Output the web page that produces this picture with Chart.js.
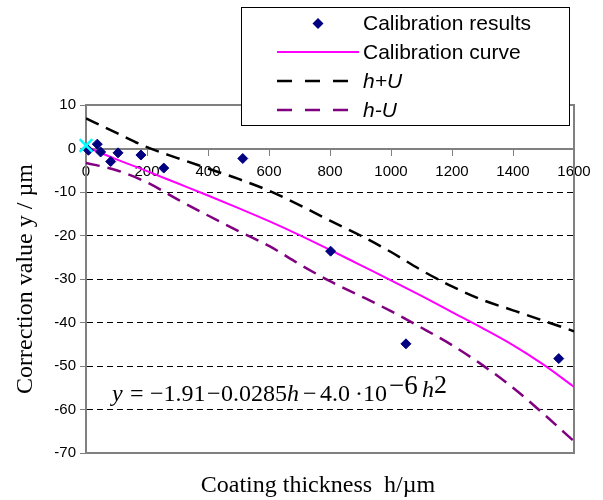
<!DOCTYPE html>
<html>
<head>
<meta charset="utf-8">
<script src="https://cdn.jsdelivr.net/npm/chart.js@4.4.1/dist/chart.umd.min.js"></script>
<style>
html,body{margin:0;padding:0;background:#fff;}
#wrap{width:603px;height:500px;position:relative;}
</style>
</head>
<body>
<div id="wrap"><canvas id="c" width="603" height="500"></canvas></div>
<script>
// ---- data ----
const seriesNames = ['Calibration results', 'Calibration curve', 'h+U', 'h-U'];
const xAxisTitle = 'Coating thickness  h/\u00b5m';
const yAxisTitle = 'Correction value y / \u00b5m';

const referenceH = [0];
const referenceY = [0.7];

const resultH = [8, 37, 48, 81, 105, 180, 255, 514, 802, 1049, 1550];
const resultY = [-0.4, 1.0, -0.8, -3.0, -1.0, -1.5, -4.5, -2.3, -23.6, -44.9, -48.3];

const curveH  = [0, 100, 200, 300, 400, 500, 600, 700, 800, 900, 1000, 1100, 1200, 1300, 1400, 1500, 1600];
const curveY  = [0.4, -2.5, -5.2, -8.0, -10.8, -13.7, -16.7, -19.9, -23.3, -26.8, -30.3, -33.9, -37.6, -41.3, -45.2, -49.7, -54.8];
const upperY  = [6.9, 3.6, 0.3, -2.2, -4.6, -7.0, -9.7, -13.0, -16.6, -20.0, -23.8, -28.0, -31.7, -34.8, -37.2, -39.6, -42.0];
const lowerY  = [-3.3, -5.0, -7.8, -11.7, -15.4, -19.0, -22.4, -26.6, -30.5, -33.9, -37.4, -41.2, -45.2, -49.8, -55.0, -61.0, -67.3];

const xTicks = [0, 200, 400, 600, 800, 1000, 1200, 1400, 1600];
const yTicks = [10, 0, -10, -20, -30, -40, -50, -60, -70];

// equation text pieces: [text, italic, start x, raise, font size]
const equationParts = [
  ['y', true, 112, 0, 24],
  ['=', false, 130, 0, 24],
  ['\u22121.91', false, 150, 0, 24],
  ['\u2212', false, 207, 0, 24],
  ['0.0285', false, 221, 0, 24],
  ['h', true, 287, 0, 24],
  ['\u2212', false, 303, 0, 24],
  ['4.0', false, 320, 0, 24],
  ['\u00b7', false, 355, 0, 24],
  ['10', false, 363, 0, 24],
  ['\u22126', false, 389, 7, 27],
  ['h', true, 422, 4, 24],
  ['2', false, 434, 8, 26]
];

const pts = (xs, ys) => xs.map((x, i) => ({x: x, y: ys[i]}));

const SANS = '"Liberation Sans", Arial, Helvetica, sans-serif';
const SERIF = '"Liberation Serif", "Times New Roman", Times, serif';
const GRAY = '#808080';

const framePlugin = {
  id: 'frame',
  beforeDatasetsDraw(chart) {
    const {ctx, chartArea: a} = chart;
    ctx.save();
    ctx.strokeStyle = GRAY;
    ctx.lineWidth = 2;
    ctx.strokeRect(a.left, a.top, a.right - a.left, a.bottom - a.top);
    ctx.restore();
  }
};

const textPlugin = {
  id: 'texts',
  afterDatasetsDraw(chart) {
    const {ctx} = chart;
    ctx.save();
    ctx.fillStyle = '#000';
    ctx.textBaseline = 'alphabetic';
    ctx.textAlign = 'left';
    const base = 401;
    equationParts.forEach(([t, it, x, raise, size]) => {
      ctx.font = (it ? 'italic ' : '') + size + 'px ' + SERIF;
      ctx.fillText(t, x, base - raise);
    });
    ctx.restore();
  },
  afterDraw(chart) {
    const {ctx} = chart;
    ctx.save();
    // x axis title
    ctx.fillStyle = '#000';
    ctx.font = '24px ' + SERIF;
    ctx.textAlign = 'center';
    ctx.textBaseline = 'alphabetic';
    ctx.fillText(xAxisTitle, 318, 492);

    // legend box
    const bx = 241.5, by = 7.5, bw = 328, bh = 118;
    ctx.fillStyle = '#fff';
    ctx.fillRect(bx, by, bw, bh);
    ctx.strokeStyle = '#000';
    ctx.lineWidth = 1;
    ctx.strokeRect(bx, by, bw, bh);
    const rowY = [23.5, 52, 81, 110];
    const items = chart.data.datasets.filter(d => d.inLegend);
    items.forEach((d, i) => {
      const y = rowY[i];
      ctx.save();
      if (d.showLine) {
        const dashed = d.borderDash && d.borderDash.length;
        ctx.strokeStyle = d.borderColor;
        ctx.lineWidth = d.borderWidth;
        ctx.setLineDash(dashed ? [15, 13] : []);
        ctx.beginPath();
        ctx.moveTo(277, y);
        ctx.lineTo(dashed ? 360 : 359, y);
        ctx.stroke();
      } else {
        ctx.fillStyle = d.pointBackgroundColor;
        ctx.beginPath();
        const r = 5.5;
        ctx.moveTo(318 - r, y); ctx.lineTo(318, y - r); ctx.lineTo(318 + r, y); ctx.lineTo(318, y + r);
        ctx.closePath();
        ctx.fill();
      }
      ctx.restore();
      ctx.fillStyle = '#000';
      ctx.font = (d.italicLabel ? 'italic ' : '') + '21px ' + SANS;
      ctx.textAlign = 'left';
      ctx.textBaseline = 'middle';
      ctx.fillText(d.label, 363, y + 1);
    });
    ctx.restore();
  }
};

new Chart(document.getElementById('c'), {
  type: 'scatter',
  data: {
    datasets: [
      {
        label: 'reference point',
        inLegend: false,
        data: pts(referenceH, referenceY),
        pointStyle: 'crossRot',
        pointRadius: 9,
        pointBorderColor: '#00FFFF',
        pointBackgroundColor: '#00FFFF',
        pointBorderWidth: 2.5,
        showLine: false,
        clip: false
      },
      {
        label: seriesNames[0],
        inLegend: true,
        data: pts(resultH, resultY),
        pointStyle: 'rectRot',
        pointRadius: 5,
        pointBorderWidth: 1,
        pointBackgroundColor: '#000080',
        pointBorderColor: '#000080',
        showLine: false,
        clip: false
      },
      {
        label: seriesNames[1],
        inLegend: true,
        data: pts(curveH, curveY),
        showLine: true,
        borderColor: '#FF00FF',
        borderWidth: 2,
        pointRadius: 0,
        cubicInterpolationMode: 'monotone',
        borderDash: []
      },
      {
        label: seriesNames[2],
        inLegend: true,
        italicLabel: true,
        data: pts(curveH, upperY),
        showLine: true,
        borderColor: '#000000',
        borderWidth: 2.5,
        borderDash: [14, 8],
        pointRadius: 0,
        cubicInterpolationMode: 'monotone'
      },
      {
        label: seriesNames[3],
        inLegend: true,
        italicLabel: true,
        data: pts(curveH, lowerY),
        showLine: true,
        borderColor: '#800080',
        borderWidth: 2.5,
        borderDash: [14, 8],
        pointRadius: 0,
        cubicInterpolationMode: 'monotone'
      }
    ]
  },
  options: {
    responsive: false,
    animation: false,
    devicePixelRatio: 1,
    events: [],
    layout: {padding: {top: 105, right: 29, bottom: 47, left: 0}},
    plugins: {
      legend: {display: false},
      tooltip: {enabled: false},
      title: {display: false}
    },
    scales: {
      x: {
        type: 'linear',
        position: {y: 0},
        min: 0,
        max: 1600,
        afterBuildTicks: s => { s.ticks = xTicks.map(v => ({value: v})); },
        ticks: {
          autoSkip: false,
          maxRotation: 0,
          padding: 8,
          color: '#000',
          font: {family: SANS, size: 15},
          callback: v => String(v)
        },
        grid: {
          display: true,
          drawOnChartArea: false,
          drawTicks: true,
          tickLength: 6,
          tickColor: GRAY,
          tickWidth: 1
        },
        border: {display: true, color: GRAY, width: 2}
      },
      y: {
        type: 'linear',
        position: 'left',
        min: -70,
        max: 10,
        afterBuildTicks: s => { s.ticks = yTicks.map(v => ({value: v})); },
        afterFit: s => { s.width = 86; },
        ticks: {
          padding: 4,
          color: '#000',
          font: {family: SANS, size: 15},
          callback: v => String(v)
        },
        grid: {
          display: true,
          drawOnChartArea: true,
          drawTicks: true,
          tickLength: 6,
          tickColor: GRAY,
          tickWidth: 1,
          lineWidth: 1,
          color: c => (c.tick && (c.tick.value === 10 || c.tick.value === 0 || c.tick.value === -70)) ? 'rgba(0,0,0,0)' : '#000'
        },
        border: {display: true, color: GRAY, width: 2, dash: [6, 4]},
        title: {
          display: true,
          text: yAxisTitle,
          color: '#000',
          font: {family: SERIF, size: 24},
          padding: {top: 11, bottom: 0}
        }
      }
    }
  },
  plugins: [framePlugin, textPlugin]
});
</script>
</body>
</html>
